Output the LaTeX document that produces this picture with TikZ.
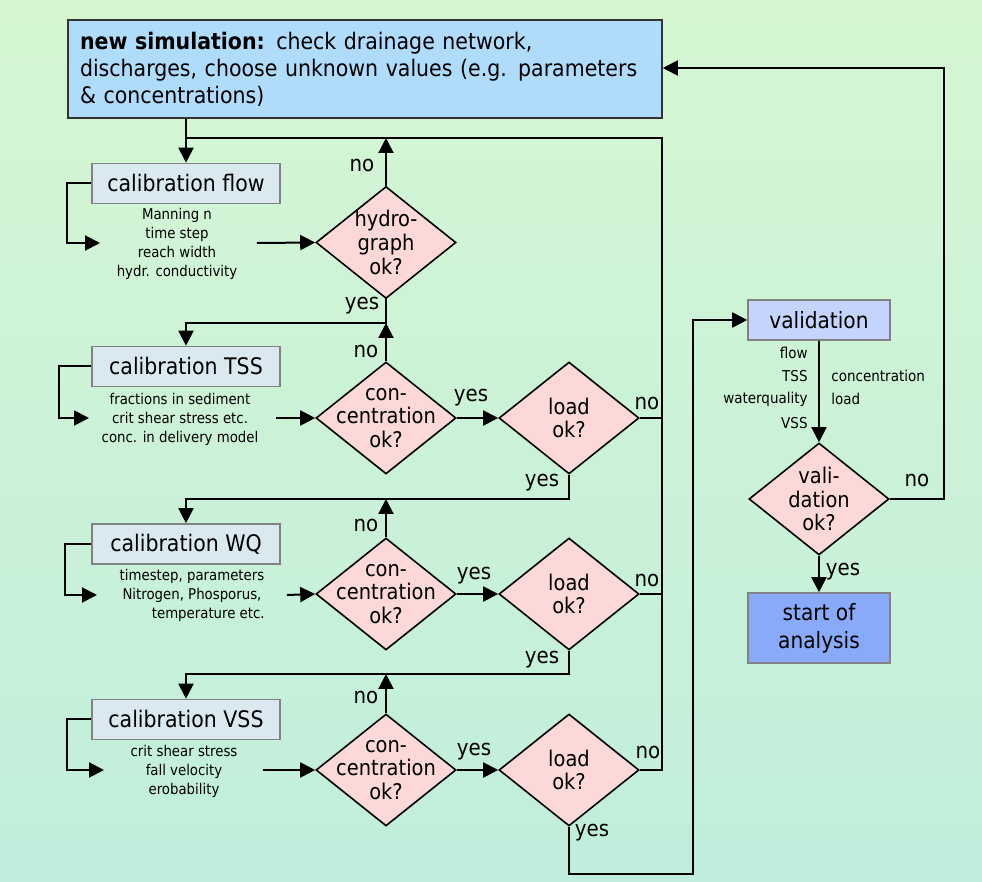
\documentclass[tikz,border=0pt]{standalone}
\usepackage{fontspec}
\setmainfont{DejaVu Sans Condensed}
\usetikzlibrary{shapes.geometric,arrows.meta}
\definecolor{bgtop}{RGB}{214,246,210}
\definecolor{bgbot}{RGB}{192,238,220}
\definecolor{topfill}{RGB}{176,220,252}
\definecolor{calfill}{RGB}{218,232,240}
\definecolor{calborder}{RGB}{130,130,130}
\definecolor{valfill}{RGB}{196,212,252}
\definecolor{startfill}{RGB}{136,170,248}
\definecolor{diafill}{RGB}{252,216,216}
\tikzset{
  arr/.style={-{Triangle[length=7.5pt,width=7.5pt]}, line width=1pt},
  ln/.style={line width=1pt},
  calbox/.style={draw=calborder, line width=0.8pt, fill=calfill, minimum width=94pt, minimum height=20pt, inner sep=0pt, font=\fontsize{11.4}{13}\selectfont},
  dia/.style={diamond, draw, line width=0.8pt, fill=diafill, minimum width=70pt, minimum height=56pt, inner sep=0pt},
  diatxt/.style={align=center, font=\fontsize{10.8}{11.8}\selectfont},
  param/.style={align=center, font=\fontsize{7.4}{9.5}\selectfont, inner sep=1pt},
  yn/.style={font=\fontsize{11}{12}\selectfont, inner sep=1pt},
  vlab/.style={font=\fontsize{7.5}{11.5}\selectfont, inner sep=1pt},
}
\begin{document}
\begin{tikzpicture}[x=0.5pt,y=-0.5pt]
\shade[top color=bgtop, bottom color=bgbot] (0,0) rectangle (982,882);
\useasboundingbox (0,0) rectangle (982,882);

% top box
\node[draw=black!80, line width=0.8pt, fill=topfill, minimum width=297pt, minimum height=49pt, text width=285pt, align=left, inner xsep=6pt, font=\fontsize{11.4}{13.5}\selectfont] (top) at (365,69)
  {\textbf{new simulation:} check drainage network,\\discharges, choose unknown values (e.g. parameters\\\& concentrations)};

% calibration boxes
\node[calbox] (cf) at (186,183.5) {calibration flow};
\node[calbox] (ct) at (186,366.5) {calibration TSS};
\node[calbox] (cw) at (186,544) {calibration WQ};
\node[calbox] (cv) at (186,719.5) {calibration VSS};

% parameter texts
\node[param] (pf) at (177,244) {Manning n\\time step\\reach width\\hydr. conductivity};
\node[param] (pt) at (180,419) {fractions in sediment\\crit shear stress etc.\\conc. in delivery model};
\node[param] (pw) at (192,595) {timestep, parameters\\Nitrogen, Phosporus,\\\hspace*{2.2em}temperature etc.};
\node[param] (pv) at (184,771) {crit shear stress\\fall velocity\\erobability};

% diamonds
\node[dia, label={[diatxt]center:hydro-\\graph\\ok?}] (d1) at (386,242.5) {};
\node[dia, label={[diatxt]center:con-\\centration\\ok?}] (c1) at (386,418) {};
\node[dia, label={[diatxt]center:load\\ok?}] (l1) at (569,418) {};
\node[dia, label={[diatxt]center:con-\\centration\\ok?}] (c2) at (386,594) {};
\node[dia, label={[diatxt]center:load\\ok?}] (l2) at (569,594) {};
\node[dia, label={[diatxt]center:con-\\centration\\ok?}] (c3) at (386,770) {};
\node[dia, label={[diatxt]center:load\\ok?}] (l3) at (569,770) {};

% validation
\node[draw=calborder, line width=0.8pt, fill=valfill, minimum width=71pt, minimum height=20pt, inner sep=0pt, font=\fontsize{11.2}{12}\selectfont] (val) at (819,320) {validation};
\node[dia, label={[diatxt]center:vali-\\dation\\ok?}] (vd) at (819,499) {};
\node[draw=calborder, line width=0.8pt, fill=startfill, minimum width=71pt, minimum height=35pt, inner sep=0pt, align=center, font=\fontsize{11.2}{14}\selectfont] (st) at (819,628) {start of\\analysis};

% coordinates
\coordinate (j0) at (186,138);
\coordinate (r0) at (662,138);
\coordinate (j1) at (186,323);
\coordinate (j2) at (186,499);
\coordinate (j3) at (186,674);
\coordinate (a1) at (100,243);
\coordinate (a2) at (89,418);
\coordinate (a3) at (97,595);
\coordinate (a4) at (104,770);
\coordinate (s1) at (257,243);
\coordinate (s2) at (276,418);
\coordinate (s3) at (287,595);
\coordinate (s4) at (263,770);
\coordinate (bot) at (693,874);
\coordinate (rt) at (944,68);

% main flow
\draw[arr] (top.south -| cf.north) -- (cf.north);
\draw[ln] (j0) -- (r0) -- (r0 |- l3.east) -- (l3.east);
\draw[ln] (l1.east) -- (l1.east -| r0);
\draw[ln] (l2.east) -- (l2.east -| r0);

% brackets
\draw[arr] (cf.west) -- ++(-24,0) |- (a1);
\draw[arr] (ct.west) -- ++(-32,0) |- (a2);
\draw[arr] (cw.west) -- ++(-26,0) |- (a3);
\draw[arr] (cv.west) -- ++(-24,0) |- (a4);

% params to diamonds
\draw[arr] (s1) -- (d1.west);
\draw[arr] (s2) -- (c1.west);
\draw[arr] (s3) -- (c2.west);
\draw[arr] (s4) -- (c3.west);

% no loops up
\draw[arr] (d1.north) -- (d1.north |- j0);
\draw[arr] (c1.north) -- (c1.north |- j1);
\draw[arr] (c2.north) -- (c2.north |- j2);
\draw[arr] (c3.north) -- (c3.north |- j3);

% yes to next
\draw[arr] (d1.south) -- (d1.south |- j1) -- (j1) -- (ct.north);
\draw[arr] (c1.east) -- (l1.west);
\draw[arr] (l1.south) -- (l1.south |- j2) -- (j2) -- (cw.north);
\draw[arr] (c2.east) -- (l2.west);
\draw[arr] (l2.south) -- (l2.south |- j3) -- (j3) -- (cv.north);
\draw[arr] (c3.east) -- (l3.west);
\draw[arr] (l3.south) |- (bot) |- (val.west);

% validation
\draw[arr] (val.south) -- (vd.north);
\draw[arr] (vd.south) -- (st.north);
\draw[arr] (vd.east) -| (rt) -- (rt -| top.east);

% labels
\node[yn] (n1) at (362,165) {no};
\node[yn] (y1) at (362,306) {yes};
\node[yn] (n2) at (366,351) {no};
\node[yn] (y2) at (471,398) {yes};
\node[yn] (n3) at (647,403) {no};
\node[yn] (y3) at (542,483) {yes};
\node[yn] (n4) at (366,525) {no};
\node[yn] (y4) at (474,576) {yes};
\node[yn] (n5) at (647,580) {no};
\node[yn] (y5) at (542,660) {yes};
\node[yn] (n6) at (366,697) {no};
\node[yn] (y6) at (474,752) {yes};
\node[yn] (n7) at (648,752) {no};
\node[yn] (y7) at (592,833) {yes};
\node[yn] (n8) at (917,480) {no};
\node[yn] (y8) at (843,572) {yes};

\node[vlab, anchor=east] (vf) at (810,353) {flow};
\node[vlab, anchor=east] (vt) at (810,376) {TSS};
\node[vlab, anchor=east] (vw) at (810,399) {waterquality};
\node[vlab, anchor=east] (vs) at (810,423) {VSS};
\node[vlab, anchor=west] (vc) at (829,376) {concentration};
\node[vlab, anchor=west] (vl) at (829,399) {load};
\end{tikzpicture}
\end{document}
